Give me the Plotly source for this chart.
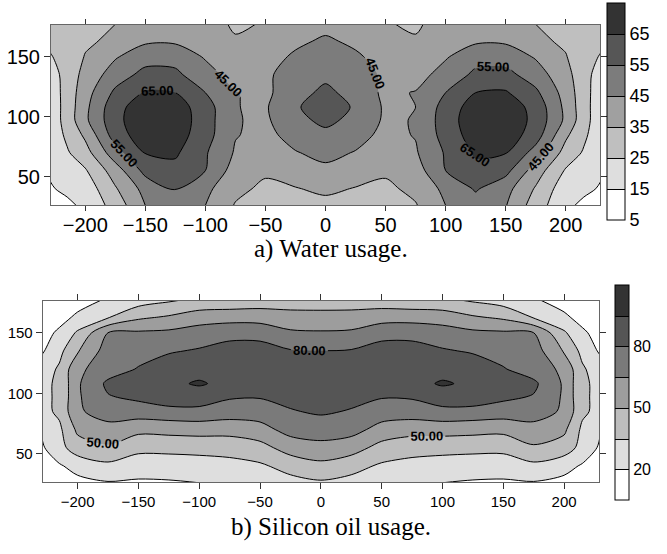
import plotly.graph_objects as go

# Grid positions of the measured values
x_nodes = [-230, -215, -200, -175, -150, -125, -100, -75, -50, -25, 0,
           25, 50, 75, 100, 125, 150, 175, 200, 215, 230]
y_nodes = [26, 40, 55, 70, 85, 97, 108, 120, 135, 150, 163, 177]

# a) water usage, one row per y node (bottom to top)
water_z = [
    [10, 13, 17, 29, 45, 51, 45, 34.3, 31, 31, 32, 31, 31, 34.3, 45, 51, 45.5, 30, 17, 13, 10],
    [14, 17, 19, 34, 48.5, 55.5, 47.5, 37.5, 33, 34.5, 37, 34.5, 33, 37.5, 47.5, 56, 48.5, 34, 19, 17, 14],
    [16, 19.5, 24, 40, 58, 62, 55, 40.5, 36.5, 40, 43, 40, 36.5, 40.5, 55, 62, 58, 40, 24, 19.5, 16],
    [17.5, 24, 31, 51, 65.5, 66.5, 56, 44, 40, 44.5, 47.5, 44.5, 40, 44, 56, 66.5, 65.5, 51, 31, 24, 17.5],
    [18, 27, 37, 60, 71, 70, 59, 45.5, 42.5, 48.5, 52.5, 48.5, 42.5, 45.5, 59, 70, 71, 60, 37, 27, 18],
    [18, 29, 43, 62, 72.5, 71.5, 59.5, 45.5, 43.5, 52, 57.5, 52, 43.5, 45.5, 60, 71.5, 72.5, 62, 43, 29, 18],
    [18, 29, 42.5, 61.5, 71, 70, 59.5, 45.2, 44, 54, 59.5, 54, 43.5, 45, 59, 70, 71, 61.5, 42.5, 29, 18],
    [18.5, 29, 41, 57, 66, 65, 55, 45.3, 43, 51, 57.5, 51, 43, 45.5, 55, 65, 66, 57, 41, 29, 18.5],
    [19, 29.5, 38, 50, 58, 57, 49, 41, 43.5, 49, 52.5, 49, 43.5, 41, 49, 57, 58, 50, 38, 29.5, 19],
    [24, 29, 35.5, 44, 51, 51.5, 44, 39, 41, 46.5, 49, 46.5, 41, 39, 44, 51.5, 51, 44, 35.5, 29, 24],
    [27, 30.5, 33.5, 37, 43.5, 43.5, 41, 35.7, 36.5, 43, 46.5, 43, 36.5, 35.7, 41, 43.5, 43.5, 37, 33.5, 30.5, 27],
    [29, 31, 33, 35, 38, 39, 38, 34, 35.5, 38, 42, 38, 35.5, 34, 38, 39, 38, 35, 33, 31, 29],
]

# b) silicon oil usage, one row per y node (bottom to top)
oil_z = [
    [8, 12, 16, 19, 18, 18.5, 20, 23, 27, 30.5, 33, 30.5, 27, 23, 20, 18.5, 18, 19, 16, 12, 8],
    [11, 18.5, 25, 31.5, 27, 27.5, 28.5, 30.5, 33, 40, 46, 40, 33, 30.5, 28.5, 27.5, 27, 31.5, 25, 18.5, 11],
    [17.5, 30, 43, 48, 39, 39, 39.7, 40.3, 44.5, 57, 60.5, 57, 44.5, 40.3, 39.7, 39, 39, 48, 43, 30, 17.5],
    [20.5, 32, 53, 60, 54, 55, 56, 55.7, 60, 70, 72, 70, 60, 55.7, 56, 55, 54, 60, 53, 32, 20.5],
    [30, 38, 63, 71.5, 73, 75, 76, 72.5, 72, 79, 82, 79, 72, 72.5, 76, 75, 73, 71.5, 63, 38, 30],
    [32, 37, 63, 79, 83, 89, 88, 81.5, 81, 84, 86, 84, 81, 81.5, 88, 89, 83, 79, 63, 37, 32],
    [32, 37, 63, 83, 88, 92, 96.5, 91, 89, 88.5, 88, 88.5, 89, 90.5, 96.5, 92.5, 88, 83, 63, 37, 32],
    [27, 37, 62, 72.5, 81, 88, 90, 89, 88, 87, 86, 87, 88, 89, 90, 88, 81, 72.5, 62, 37, 27],
    [17.5, 31, 48.5, 72, 74, 78.5, 81.5, 83, 83.5, 81, 80.2, 81, 83.5, 83, 81.5, 78.5, 74, 72, 48.5, 31, 17.5],
    [13, 23, 37, 65, 67, 68, 71.5, 77.5, 77, 67.5, 66.5, 67.5, 77, 77.5, 71.5, 68, 67, 65, 37, 23, 13],
    [9, 14, 23, 33.5, 47, 51.5, 58, 57.5, 57, 54.3, 54, 54.3, 57, 57.5, 58, 51.5, 47, 33.5, 23, 14, 9],
    [5.5, 9, 13, 22, 28, 33, 38, 41, 43, 44, 44, 44, 43, 41, 38, 33, 28, 22, 13, 9, 5.5],
]

water_levels = [5, 15, 25, 35, 45, 55, 65, 75]
water_ticks = [5, 15, 25, 35, 45, 55, 65]
water_colors = ["#ffffff", "#dedede", "#bfbfbf", "#a0a0a0", "#7c7c7c", "#565656", "#333333"]

oil_levels = [5, 20, 35, 50, 65, 80, 95, 110]
oil_ticks = [20, 50, 80]
oil_colors = ["#ffffff", "#dedede", "#bdbdbd", "#9d9d9d", "#7a7a7a", "#555555", "#333333"]

axis_ticks = [-200, -150, -100, -50, 0, 50, 100, 150, 200]
y_ticks = [50, 100, 150]

SANS = "Liberation Sans, Arial, sans-serif"
SERIF = "Liberation Serif, Times New Roman, serif"
SMOOTH = 0.85


def stepped_scale(levels, colors):
    lo, hi = levels[0], levels[-1]
    scale = []
    for i, c in enumerate(colors):
        scale.append([(levels[i] - lo) / (hi - lo), c])
        scale.append([(levels[i + 1] - lo) / (hi - lo), c])
    return scale


def panel_traces(z, levels, colors, xa, ya, cbar, line_sets, label_set):
    step = levels[1] - levels[0]
    common = dict(x=x_nodes, y=y_nodes, z=z, xaxis=xa, yaxis=ya,
                  hoverinfo="skip", autocontour=False)
    scale = stepped_scale(levels, colors)
    traces = [
        # filled bands with level lines; carries the colour bar
        go.Contour(**common, colorscale=scale, zmin=levels[0], zmax=levels[-1],
                   contours=dict(start=levels[1], end=levels[-2], size=step,
                                 coloring="fill"),
                   line=dict(color="black", width=1, smoothing=SMOOTH),
                   colorbar=cbar, showscale=True),
        # same bands without lines, so labelled lines can break cleanly
        go.Contour(**common, colorscale=scale, zmin=levels[0], zmax=levels[-1],
                   contours=dict(start=levels[1], end=levels[-2], size=step,
                                 coloring="fill"),
                   line=dict(width=0, smoothing=SMOOTH), showscale=False),
    ]
    for start, end, size in line_sets:
        traces.append(go.Contour(**common, showscale=False,
                                 contours=dict(start=start, end=end, size=size,
                                               coloring="none"),
                                 line=dict(color="black", width=1, smoothing=SMOOTH)))
    start, end, size = label_set
    traces.append(go.Contour(**common, showscale=False,
                             contours=dict(start=start, end=end, size=size,
                                           coloring="none", showlabels=True,
                                           labelformat=".2f",
                                           labelfont=dict(family=SANS, size=13,
                                                          weight="bold",
                                                          color="black")),
                             line=dict(color="black", width=1, smoothing=SMOOTH)))
    return traces


W, H = 667, 554

water_cbar = dict(x=607 / W, xanchor="left", y=1 - 111.5 / H, yanchor="middle",
                  len=217 / H, lenmode="fraction", thickness=18, thicknessmode="pixels",
                  xpad=0, ypad=0, outlinewidth=1, outlinecolor="black",
                  tickvals=water_ticks, ticks="",
                  tickfont=dict(family=SANS, size=18, color="black"))
oil_cbar = dict(x=615 / W, xanchor="left", y=1 - 392.5 / H, yanchor="middle",
                len=215 / H, lenmode="fraction", thickness=14, thicknessmode="pixels",
                xpad=0, ypad=0, outlinewidth=1, outlinecolor="black",
                tickvals=oil_ticks, ticks="",
                tickfont=dict(family=SANS, size=16, color="black"))

traces = []
traces += panel_traces(water_z, water_levels, water_colors, "x", "y", water_cbar,
                       line_sets=[(15, 35, 10)], label_set=(45, 65, 10))
traces += panel_traces(oil_z, oil_levels, oil_colors, "x2", "y2", oil_cbar,
                       line_sets=[(20, 35, 15), (65, 95, 30)], label_set=(50, 80, 30))

fig = go.Figure(data=traces)


def axis_style(size, **kw):
    d = dict(showline=True, linecolor="#666666", linewidth=1, mirror="ticks",
             ticks="outside", ticklen=6, tickwidth=1, tickcolor="#333333",
             showgrid=False, zeroline=False,
             tickfont=dict(family=SANS, size=size, color="black"))
    d.update(kw)
    return d


fig.update_layout(
    width=W, height=H,
    margin=dict(l=0, r=0, t=0, b=0),
    paper_bgcolor="white", plot_bgcolor="white",
    showlegend=False,
    xaxis=axis_style(20, domain=[51 / W, 600 / W], anchor="y",
                     range=[-228.5, 228.5], tickvals=axis_ticks,
                     ticklen=5, ticklabelstandoff=-3),
    yaxis=axis_style(20, domain=[1 - 205 / H, 1 - 25 / H], anchor="x",
                     range=[26.4, 176.4], tickvals=y_ticks),
    xaxis2=axis_style(15, domain=[42.7 / W, 599 / W], anchor="y2",
                      range=[-228.7, 228.7], tickvals=axis_ticks),
    yaxis2=axis_style(15, domain=[1 - 482.3 / H, 1 - 300.7 / H], anchor="x2",
                      range=[26.4, 176.5], tickvals=y_ticks),
    annotations=[
        dict(text="a) Water usage.", x=331 / W, y=1 - 249 / H, xref="paper", yref="paper",
             showarrow=False, xanchor="center", yanchor="middle",
             font=dict(family=SERIF, size=25, color="black")),
        dict(text="b) Silicon oil usage.", x=331 / W, y=1 - 527 / H, xref="paper",
             yref="paper", showarrow=False, xanchor="center", yanchor="middle",
             font=dict(family=SERIF, size=25, color="black")),
    ],
)

fig.write_html("out.html")
